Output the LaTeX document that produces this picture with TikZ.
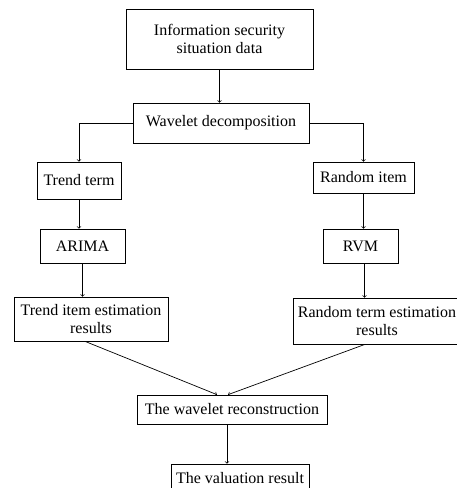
\documentclass[tikz,border=0pt]{standalone}
\usepackage{fontspec}
\setmainfont{Liberation Serif}
\begin{document}
\begin{tikzpicture}[
    x=1pt, y=-1pt,
    box/.style={rectangle, draw=black, line width=0.7pt, fill=white, inner sep=1pt, align=center, font=\fontsize{16}{18}\selectfont},
    link/.style={->, line width=0.7pt}
]
    \useasboundingbox (0,0) rectangle (456,488);

    \node[box, minimum width=187pt, minimum height=60pt] at (219.5,39) (info) {Information security\\situation data};
    \node[box, minimum width=176pt, minimum height=40pt] at (221,123) (decomp) {Wavelet decomposition};
    \node[box, minimum width=84pt, minimum height=37pt] at (79,180.5) (trend) {Trend term};
    \node[box, minimum width=101pt, minimum height=31pt] at (363.5,177.5) (random) {Random item};
    \node[box, minimum width=85pt, minimum height=34pt] at (82.5,246) (arima) {ARIMA};
    \node[box, minimum width=75pt, minimum height=34pt] at (360.5,246) (rvm) {RVM};
    \node[box, minimum width=154pt, minimum height=44pt] at (91,319) (trendres) {Trend item estimation\\results};
    \node[box, minimum width=168pt, minimum height=46pt] at (377,321) (randres) {Random term estimation\\results};
    \node[box, minimum width=190pt, minimum height=29pt] at (232,409.5) (recon) {The wavelet reconstruction};
    \node[box, minimum width=138pt, minimum height=29pt] at (240,478.5) (valuation) {The valuation result};

    \draw[link] (info) -- (info.south |- decomp.north);
    \draw[link] (decomp.west) -| (trend.north);
    \draw[link] (decomp.east) -| (random.north);
    \draw[link] (trend.south) -- (trend.south |- arima.north);
    \draw[link] (arima.south) -- (arima.south |- trendres.north);
    \draw[link] (random.south) -- (random.south |- rvm.north);
    \draw[link] ([xshift=4pt]rvm.south) -- ([xshift=4pt]rvm.south |- randres.north);
    \draw[link] ([xshift=-6pt]trendres.south) -- ([xshift=-15pt]recon.north);
    \draw[link] ([xshift=-12pt]randres.south) -- ([xshift=-4pt]recon.north);
    \draw[link] ([xshift=-5pt]recon.south) -- ([xshift=-5pt]recon.south |- valuation.north);
\end{tikzpicture}
\end{document}
